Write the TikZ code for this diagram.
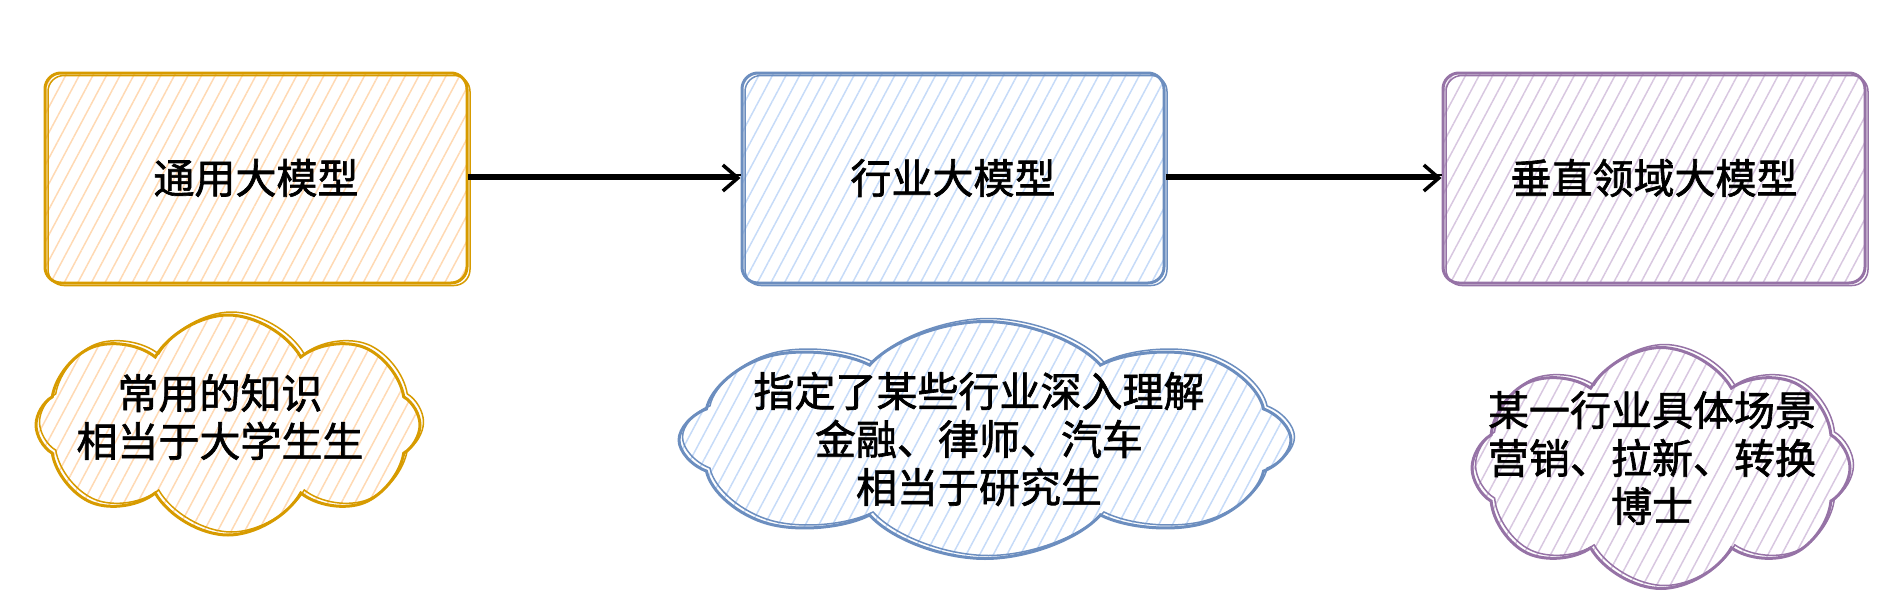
\documentclass[tikz,border=0pt]{standalone}
\usepackage{fontspec}
\setmainfont{Noto Sans CJK SC}[FakeBold=1.6]
\usetikzlibrary{shapes.symbols,patterns.meta,arrows.meta}
\definecolor{genline}{HTML}{D79B00}
\definecolor{genfill}{HTML}{FFD9B3}
\definecolor{indline}{HTML}{6C8EBF}
\definecolor{indfill}{HTML}{C6DBF8}
\definecolor{verline}{HTML}{9673A6}
\definecolor{verfill}{HTML}{D8C7E0}

\begin{document}
\begin{tikzpicture}[x=1pt, y=-1pt,
        hatch/.style={pattern={Lines[angle=62,distance=12pt,line width=1.5pt]}, pattern color=#1},
        modelbox/.style 2 args={draw=#1, line width=3pt, rounded corners=16pt, hatch=#2,
            minimum width=422pt, minimum height=210pt,
            postaction={draw=#1, line width=1.5pt, transform canvas={shift={(3pt,-2.5pt)}}}},
        notecloud/.style 2 args={cloud, cloud puffs=8, cloud puff arc=120, cloud ignores aspect,
            draw=#1, line width=3pt, hatch=#2, inner sep=0pt,
            postaction={draw=#1, line width=1.5pt, transform canvas={shift={(3.5pt,3pt)}}}},
        txt/.style={font=\fontsize{41pt}{48pt}\selectfont, align=center},
        flow/.style={-{Straight Barb[length=15pt,width=26pt,line width=3.5pt]}, line width=3.5pt,
            postaction={draw, -, line width=1.5pt, transform canvas={yshift=3pt}}}]
    \useasboundingbox (0,0) rectangle (1884,608);
    % models
    \node [modelbox={genline}{genfill}, txt] (general) at (256,178) {通用大模型};
    \node [modelbox={indline}{indfill}, txt] (industry) at (953,178) {行业大模型};
    \node [modelbox={verline}{verfill}, txt] (vertical) at (1654,178) {垂直领域大模型};
    \draw [flow] (general) -- (industry);
    \draw [flow] (industry) -- (vertical);
    % notes
    \node [notecloud={genline}{genfill}, minimum width=384pt, minimum height=220pt] (generalnote) at (228,425) {};
    \node [txt] (generaltext) at (220,417) {常用的知识\\相当于大学生生};
    \node [notecloud={indline}{indfill}, minimum width=400pt, minimum height=237pt,
        xscale=1.53, transform shape] (industrynote) at (985,440) {};
    \node [txt] (industrytext) at (979,439) {指定了某些行业深入理解\\金融、律师、汽车\\相当于研究生};
    \node [notecloud={verline}{verfill}, minimum width=378pt, minimum height=241pt] (verticalnote) at (1661,468) {};
    \node [txt] (verticaltext) at (1652,458) {某一行业具体场景\\营销、拉新、转换\\博士};
\end{tikzpicture}
\end{document}
